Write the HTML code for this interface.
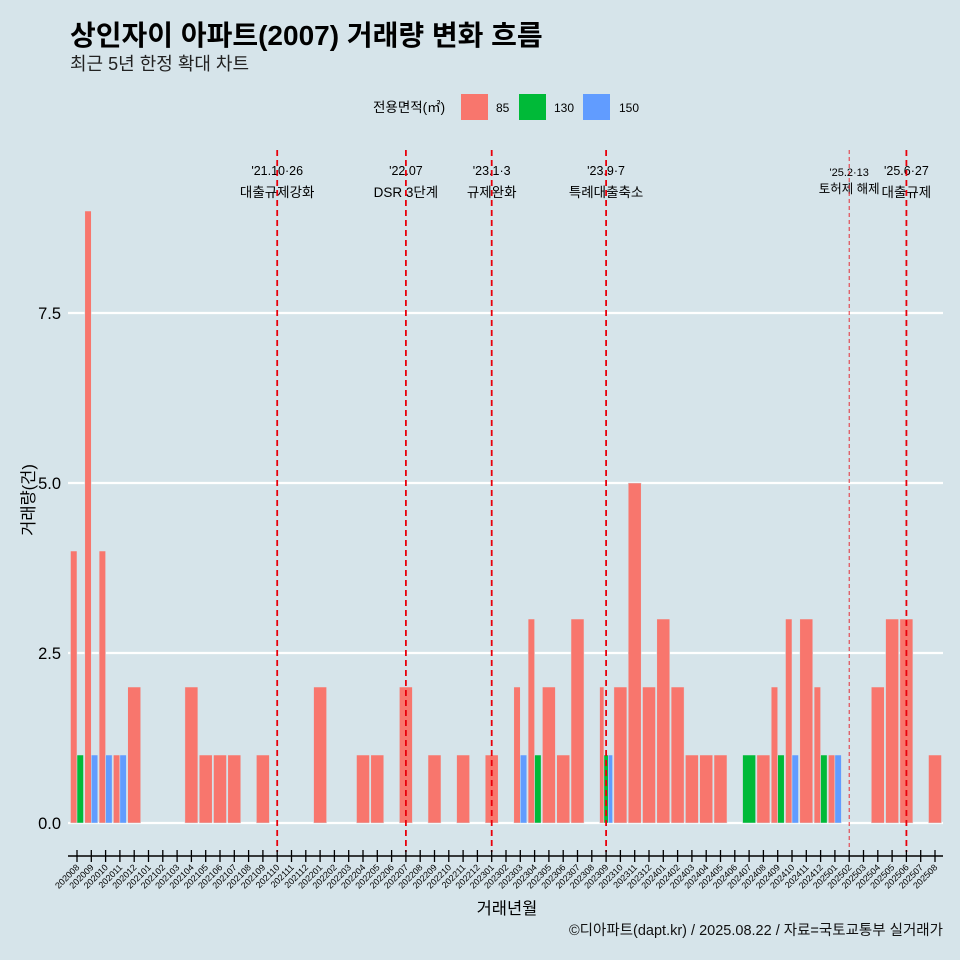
<!DOCTYPE html>
<html><head><meta charset="utf-8">
<style>
body{margin:0;background:#d6e4ea;}
svg{display:block;font-family:"Liberation Sans","Noto Sans CJK KR",sans-serif;}
</style></head>
<body>
<svg id="chart" width="960" height="960" viewBox="0 0 960 960">
<rect width="960" height="960" fill="#d6e4ea"/>
<text x="70" y="45" font-size="28" font-weight="bold" fill="#000">상인자이 아파트(2007) 거래량 변화 흐름</text>
<text x="70" y="70" font-size="18" fill="#222">최근 5년 한정 확대 차트</text>
<g>
<text x="373" y="112" font-size="13.5" fill="#000">전용면적(㎡)</text>
<rect x="461" y="94" width="27" height="26" fill="#f8766d"/>
<text x="496" y="112" font-size="12">85</text>
<rect x="519" y="94" width="27" height="26" fill="#00ba38"/>
<text x="554" y="112" font-size="12">130</text>
<rect x="583" y="94" width="27" height="26" fill="#619cff"/>
<text x="619" y="112" font-size="12">150</text>
</g>
<g id="grid"></g><g id="bars"></g><g id="ann"></g><g id="axes"></g>
<text x="507" y="914" font-size="16.5" text-anchor="middle">거래년월</text>
<text transform="translate(34,500) rotate(-90)" font-size="16.5" text-anchor="middle">거래량(건)</text>
<text x="943" y="935" font-size="14.5" text-anchor="end" fill="#111">©디아파트(dapt.kr) / 2025.08.22 / 자료=국토교통부 실거래가</text>
</svg>
<script>
const months=[];for(let y=2020;y<=2025;y++)for(let m=1;m<=12;m++){const k=y*100+m;if(k>=202008&&k<=202508)months.push(String(k));}
const series85={202008:4,202009:9,202010:4,202011:1,202012:2,202104:2,202105:1,202106:1,202107:1,202109:1,202201:2,202204:1,202205:1,202207:2,202209:1,202211:1,202301:1,202303:2,202304:3,202305:2,202306:1,202307:3,202309:2,202310:2,202311:5,202312:2,202401:3,202402:2,202403:1,202404:1,202405:1,202408:1,202409:2,202410:3,202411:3,202412:2,202501:1,202504:2,202505:3,202506:3,202508:1};
const series130={202008:1,202304:1,202309:1,202407:1,202409:1,202412:1};
const series150={202009:1,202010:1,202011:1,202303:1,202309:1,202410:1,202501:1};
const yTicks=[0,2.5,5,7.5];const yTickLabels=["0.0","2.5","5.0","7.5"];
const events=[["202110","'21.10·26","대출규제강화"],["202207","'22.07","DSR 3단계"],["202301","'23.1·3","규제완화"],["202309","'23.9·7","특례대출축소"],["202502","'25.2·13","토허제 해제"],["202506","'25.6·27","대출규제"]];
const NS="http://www.w3.org/2000/svg";
const x0=77,step=(935-77)/60,bw=13;
const X=m=>x0+months.indexOf(m)*step;
const Y=v=>823-v*68;
function mk(t,a,p){const e=document.createElementNS(NS,t);for(const k in a)e.setAttribute(k,a[k]);p.appendChild(e);return e;}
const grid=document.getElementById('grid'),bars=document.getElementById('bars'),ann=document.getElementById('ann'),axes=document.getElementById('axes');
yTicks.forEach((v,i)=>{
 const l=mk('line',{x1:68,x2:943,y1:Y(v),y2:Y(v),stroke:'#fff','stroke-width':2.2},grid);
 
 
 const t=mk('text',{x:61,y:Y(v)+6,'font-size':16.5,'text-anchor':'end'},axes);t.textContent=yTickLabels[i];
 
 
});
const cols=[[series85,'#f8766d','85'],[series130,'#00ba38','130'],[series150,'#619cff','150']];
months.forEach(m=>{
 const present=cols.filter(c=>c[0][m]);
 const n=present.length;if(!n)return;
 const w=bw/n;
 present.forEach((c,i)=>{
  const v=c[0][m];const x=X(m)-bw/2+i*w;
  const r=mk('rect',{x:x,y:Y(v),width:w,height:Y(0)-Y(v),fill:c[1],stroke:'#d6e4ea','stroke-width':0.5},bars);
  
  
 });
});
events.forEach(e=>{
 const x=X(e[0]);const small=e[0]==='202502';
 const t1=mk('text',{x:x,y:small?176:175,'font-size':small?11:12.5,'text-anchor':'middle'},ann);t1.textContent=e[1];
 
 
 const t2=mk('text',{x:x,y:small?193:197,'font-size':small?12.5:13.5,'text-anchor':'middle'},ann);t2.textContent=e[2];
 
 
 const l=mk('line',{x1:x,x2:x,y1:150,y2:852,stroke:'#e8000b','stroke-width':small?1:1.8,'stroke-dasharray':small?'4,3':'6,4',opacity:small?0.8:1},ann);
 
 
});
const ax=mk('line',{x1:68,x2:943,y1:856,y2:856,stroke:'#000','stroke-width':1.5},axes);


months.forEach(m=>{
 const x=X(m);
 const tk=mk('line',{x1:x,x2:x,y1:850,y2:862,stroke:'#000','stroke-width':1.3},axes);
 
 
 const t=mk('text',{transform:`translate(${x+3},868) rotate(-45)`,'font-size':9,'text-anchor':'end'},axes);t.textContent=m;
 
 
});
</script>
</body></html>
